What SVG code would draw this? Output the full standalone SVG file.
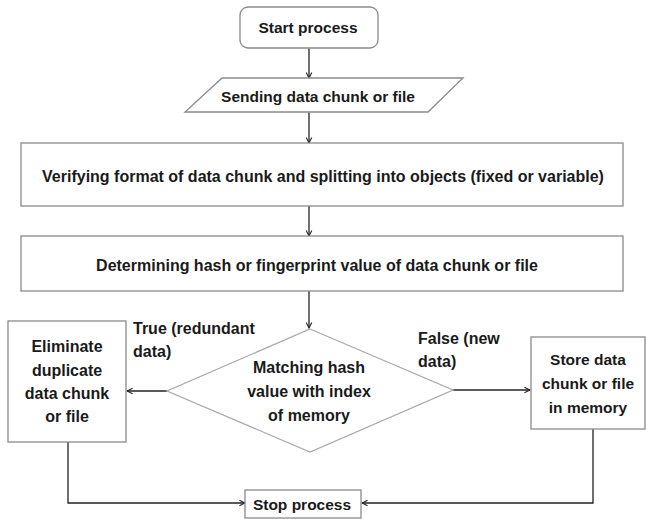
<svg xmlns="http://www.w3.org/2000/svg" width="646" height="519" viewBox="0 0 646 519">
<style>
text{font-family:"Liberation Sans",Arial,sans-serif;font-weight:bold;font-size:15.5px;fill:#1a1a1a;text-anchor:middle;dominant-baseline:central}
.big{font-size:16px}
.box{fill:#fff;stroke:#8a8a8a;stroke-width:1.3}
.dia{fill:#fff;stroke:#aaaaaa;stroke-width:1.3}
.lab{text-anchor:start;font-size:16px}
.con{fill:none;stroke:#222;stroke-width:1.3;marker-end:url(#ah)}
</style>
<defs>
<marker id="ah" viewBox="0 0 10 10" refX="9" refY="5" markerWidth="7" markerHeight="7" orient="auto" markerUnits="userSpaceOnUse">
<path d="M1,1 L9,5 L1,9" fill="none" stroke="#222" stroke-width="1.5"/>
</marker>
</defs>
<rect width="646" height="519" fill="#fff"/>
<g id="connectors">
<path class="con" d="M309,48 V78"/>
<path class="con" d="M309,112 V143"/>
<path class="con" d="M309,206 V236"/>
<path class="con" d="M309,291 V328"/>
<path class="con" d="M167,391 H127"/>
<path class="con" d="M453,390 H530"/>
<path class="con" d="M68,442 V503 H245"/>
<path class="con" d="M593,429 V503 H362"/>
</g>
<g id="start">
<rect class="box" x="240" y="7" width="138" height="41" rx="8"/>
<text x="308" y="27.5">Start process</text>
</g>
<g id="send">
<polygon class="box" points="222,78 463,78 428,112 185,112"/>
<text x="318" y="96">Sending data chunk or file</text>
</g>
<g id="verify">
<rect class="box" x="21" y="143" width="602" height="63"/>
<text class="big" x="323" y="176">Verifying format of data chunk and splitting into objects (fixed or variable)</text>
</g>
<g id="hash">
<rect class="box" x="21" y="236" width="602" height="55"/>
<text class="big" x="317" y="265">Determining hash or fingerprint value of data chunk or file</text>
</g>
<g id="match">
<polygon class="dia" points="310,329 453,390 310,452 167,391"/>
<text class="big" x="309" y="367">Matching hash</text>
<text class="big" x="309" y="391">value with index</text>
<text class="big" x="309" y="415">of memory</text>
</g>
<g id="labels">
<text class="lab" x="133" y="328">True (redundant</text>
<text class="lab" x="133" y="351">data)</text>
<text class="lab" x="418" y="338">False (new</text>
<text class="lab" x="418" y="361">data)</text>
</g>
<g id="eliminate">
<rect class="box" x="8" y="321" width="118" height="121"/>
<text class="big" x="67" y="346">Eliminate</text>
<text class="big" x="67" y="370">duplicate</text>
<text class="big" x="67" y="393">data chunk</text>
<text class="big" x="67" y="416">or file</text>
</g>
<g id="store">
<rect class="box" x="531" y="337" width="114" height="92"/>
<text x="588" y="359">Store data</text>
<text x="588" y="383">chunk or file</text>
<text x="588" y="407">in memory</text>
</g>
<g id="stop">
<rect class="box" x="245" y="490" width="116" height="28"/>
<text x="302" y="504">Stop process</text>
</g>
</svg>
